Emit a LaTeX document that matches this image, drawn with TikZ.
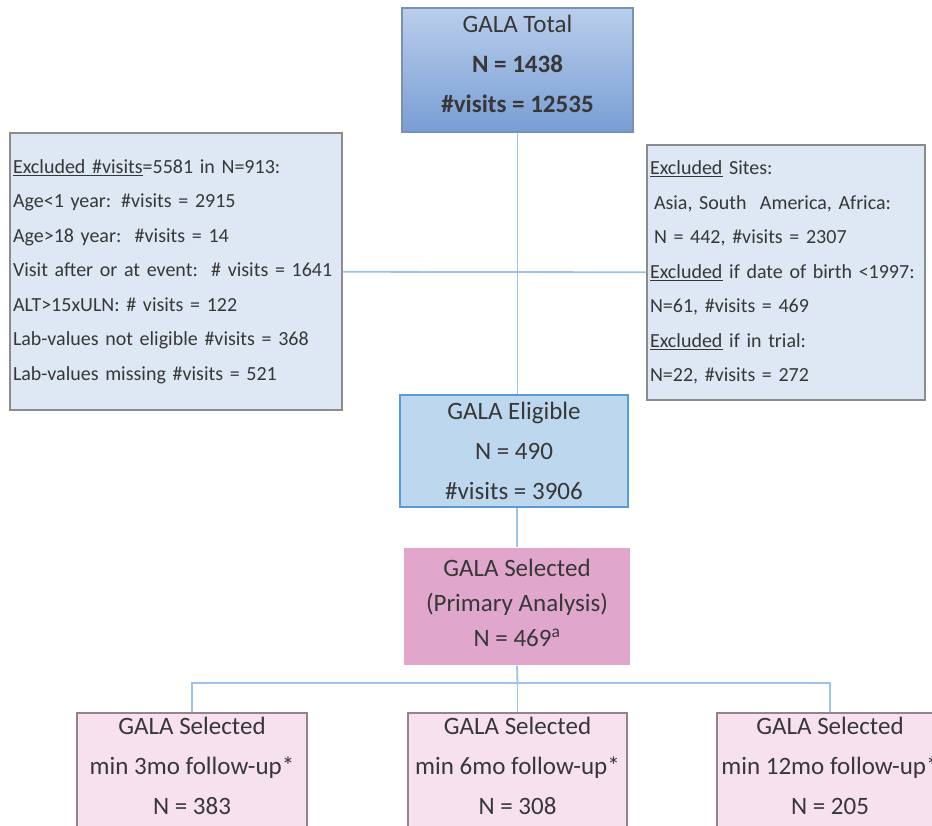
\documentclass[tikz,border=0pt]{standalone}
\usepackage{fontspec}
\setmainfont{Carlito}
\definecolor{totaltop}{RGB}{186,206,236}
\definecolor{totalbot}{RGB}{120,158,212}
\definecolor{totalline}{RGB}{120,145,180}
\definecolor{exclfill}{RGB}{221,232,244}
\definecolor{exclline}{RGB}{140,140,140}
\definecolor{eligfill}{RGB}{189,215,238}
\definecolor{eligline}{RGB}{91,155,213}
\definecolor{selfill}{RGB}{224,166,204}
\definecolor{subfill}{RGB}{247,225,239}
\definecolor{subline}{RGB}{150,130,140}
\definecolor{linkblue}{RGB}{157,195,230}
\definecolor{txtgray}{RGB}{55,55,55}
\usetikzlibrary{positioning}

\begin{document}
\begin{tikzpicture}[x=1pt, y=-1pt,
  mainbox/.style={draw, align=center, inner sep=0pt, line width=1.2pt, text=txtgray, font=\fontsize{25}{40}\selectfont},
  exbox/.style={draw=exclline, fill=exclfill, line width=1.2pt, align=left, inner xsep=3pt, inner ysep=0pt, text=txtgray, font=\fontsize{20}{34.5}\selectfont},
  subbox/.style={mainbox, draw=subline, fill=subfill, minimum height=127pt, text depth=22pt},
  link/.style={draw=linkblue, line width=1.8pt}
]
  \clip (0,0) rectangle (932,826);
  \fill[white] (0,0) rectangle (932,826);

  \node[mainbox, draw=totalline, top color=totaltop, bottom color=totalbot, minimum width=231pt, minimum height=124pt, text depth=13pt] (total) at (517.5,70) {
    GALA Total\\
    \textbf{N = 1438}\\
    \textbf{\#visits = 12535}
  };
  \node[exbox, text width=326pt, minimum height=277pt] (exleft) at (176,271.5) {
    \underline{Excluded \#visits}=5581 in N=913:\\
    Age<1 year: \#visits = 2915\\
    Age>18 year:\ \ \#visits = 14\\
    Visit after or at event:\ \ \# visits = 1641\\
    ALT>15xULN: \# visits = 122\\
    Lab-values not eligible \#visits = 368\\
    Lab-values missing \#visits = 521
  };
  \node[exbox, text width=272pt, minimum height=255pt] (exright) at (786,272.5) {
    \underline{Excluded} Sites:\\
    \hspace*{4pt}Asia, South\ \ America, Africa:\\
    \hspace*{4pt}N = 442, \#visits = 2307\\
    \underline{Excluded} if date of birth <1997:\\
    N=61, \#visits = 469\\
    \underline{Excluded} if in trial:\\
    N=22, \#visits = 272
  };
  \node[mainbox, draw=eligline, fill=eligfill, minimum width=228pt, minimum height=112pt] (elig) at (514,451) {
    GALA Eligible\\
    N = 490\\
    \#visits = 3906
  };
  \node[mainbox, draw=none, fill=selfill, minimum width=226pt, minimum height=117pt, text depth=8pt, font=\fontsize{25}{35}\selectfont] (sel) at (517,606.5) {
    GALA Selected\\
    (Primary Analysis)\\
    N = 469\textsuperscript{a}
  };
  \node[subbox, minimum width=230pt] (fu3) at (192,776.5) {
    GALA Selected\\
    min 3mo follow-up*\\
    N = 383
  };
  \node[subbox, minimum width=219pt] (fu6) at (517.5,776.5) {
    GALA Selected\\
    min 6mo follow-up*\\
    N = 308
  };
  \node[subbox, minimum width=226pt] (fu12) at (830,776.5) {
    GALA Selected\\
    min 12mo follow-up*\\
    N = 205
  };
  \coordinate (split) at (517.5,683);

  \draw[link] (exleft) -- (exright);
  \draw[link] (total.south) -- (total.south |- elig.north);
  \draw[link] (elig.south -| sel.north) -- (sel.north);
  \draw[link] (sel.south) -- (split);
  \draw[link] (fu3.north) |- (split) -| (fu12.north);
  \draw[link] (split) -- (fu6.north);
\end{tikzpicture}
\end{document}
